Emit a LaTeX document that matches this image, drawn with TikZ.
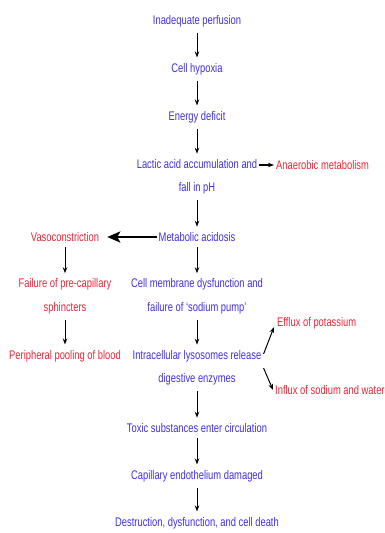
\documentclass[tikz,border=0pt]{standalone}
\usepackage{fontspec}
\setmainfont[FakeStretch=0.75]{Liberation Sans}
\usepackage{xcolor}
\usetikzlibrary{arrows.meta, positioning, calc}
\definecolor{chainblue}{RGB}{64,48,224}
\definecolor{sidered}{RGB}{228,40,56}

\begin{document}
\begin{tikzpicture}[
    x=1pt, y=-1pt,
    stage/.style={text=chainblue, align=center, inner xsep=2pt, inner ysep=5.5pt, font=\fontsize{12.5}{23.5}\selectfont},
    side/.style={stage, text=sidered},
    arrow/.style={-{Stealth[length=6pt,width=4.5pt]}, line width=1pt},
    bigarrow/.style={-{Stealth[length=13pt,width=11pt,inset=3pt]}, line width=2.6pt}
]
    \useasboundingbox (0,0) rectangle (384,533);

    % Main chain
    \node [stage] (perf) at (197,21) {Inadequate perfusion};
    \node [stage] (hyp) at (197,69) {Cell hypoxia};
    \node [stage] (energy) at (197,117) {Energy deficit};
    \node [stage] (lactic) at (197,177) {Lactic acid accumulation and\\fall in pH};
    \node [stage] (acid) at (197,237) {Metabolic acidosis};
    \node [stage] (membrane) at (197,296.5) {Cell membrane dysfunction and\\failure of `sodium pump'};
    \node [stage] (lyso) at (197,368) {Intracellular lysosomes release\\digestive enzymes};
    \node [stage] (toxic) at (197,428) {Toxic substances enter circulation};
    \node [stage] (capil) at (197,476) {Capillary endothelium damaged};
    \node [stage] (death) at (197,523) {Destruction, dysfunction, and cell death};

    % Side effects
    \node [side, anchor=west] (anaer) at (274,165) {Anaerobic metabolism};
    \node [side] (vaso) at (65,237) {Vasoconstriction};
    \node [side] (sphinc) at (65,296.5) {Failure of pre-capillary\\sphincters};
    \node [side] (pool) at (65,356) {Peripheral pooling of blood};
    \node [side, anchor=west] (efflux) at (275,323) {Efflux of potassium};
    \node [side, anchor=west] (influx) at (273,390) {Influx of sodium and water};

    % Arrows
    \draw [arrow] (perf) -- (hyp);
    \draw [arrow] (hyp) -- (energy);
    \draw [arrow] (energy) -- (lactic);
    \draw [arrow] (lactic) -- (acid);
    \draw [arrow] (acid) -- (membrane);
    \draw [arrow] (membrane) -- (lyso);
    \draw [arrow] (lyso) -- (toxic);
    \draw [arrow] (toxic) -- (capil);
    \draw [arrow] (capil) -- (death);
    \draw [arrow, line width=1.4pt] (lactic.east |- anaer.west) -- (anaer.west);
    \draw [bigarrow] (acid.west) -- ([xshift=6pt]vaso.east);
    \draw [arrow] (vaso) -- (sphinc);
    \draw [arrow] (sphinc) -- (pool);
    \draw [arrow] ([yshift=14pt]lyso.east) -- ([xshift=-1pt,yshift=-4pt]efflux.west);
    \draw [arrow] (lyso.east) -- (influx.west);
\end{tikzpicture}
\end{document}
